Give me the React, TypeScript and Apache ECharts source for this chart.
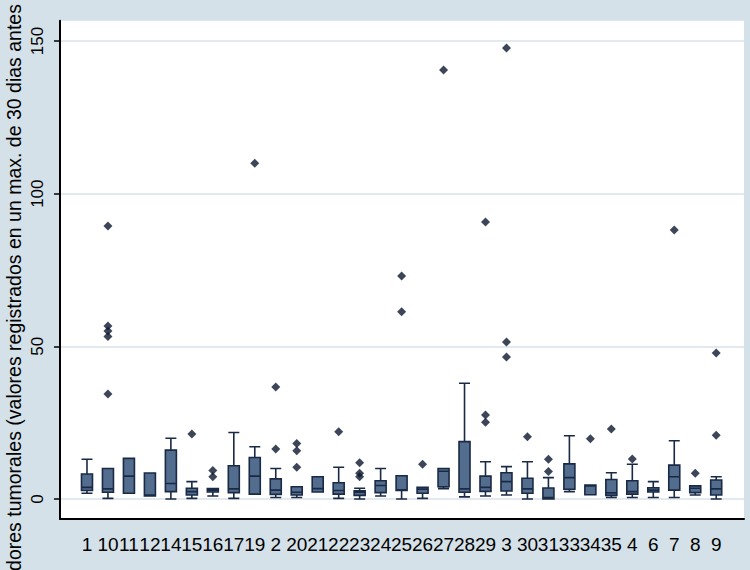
import React, { useEffect, useRef } from "react";
import * as echarts from "echarts";

const categories = ["1","10","11","12","14","15","16","17","19","2","20","21","22","23","24","25","26","27","28","29","3","30","31","33","34","35","4","6","7","8","9"];
const lowerWhisker = [1.9,0.2,1.9,1.0,0.0,0.2,1.0,0.2,1.6,0.5,0.5,2.3,0.2,0.0,1.0,0.0,0.2,3.4,0.7,1.0,1.3,0.0,0.0,2.4,1.4,0.5,0.5,0.5,0.5,1.3,0.0];
const q1 =           [2.8,2.2,1.9,1.0,2.4,1.3,2.3,2.1,1.6,1.5,1.3,2.3,1.6,1.2,2.1,2.8,1.9,4.0,2.2,2.5,2.6,1.9,0.0,3.2,1.4,1.2,1.6,2.3,2.9,2.1,1.3];
const median =       [3.8,3.3,7.5,1.3,5.1,2.4,2.9,3.3,7.5,2.9,2.2,3.4,2.8,2.2,4.4,3.0,3.2,9.1,3.3,3.8,5.7,3.3,0.5,7.0,4.3,2.0,2.4,2.9,7.3,3.5,3.3];
const q3 =           [8.2,10.0,13.3,8.5,16.0,3.5,3.4,10.9,13.6,6.6,4.0,7.3,5.3,2.7,6.0,7.6,3.8,10.0,18.8,7.5,8.6,6.8,3.6,11.5,4.6,6.4,6.0,3.7,11.1,4.3,6.2];
const upperWhisker = [13.0,10.0,13.3,8.5,19.9,5.7,3.4,21.8,17.1,10.0,4.0,7.3,10.4,3.5,10.0,7.6,3.8,10.0,37.9,12.2,10.6,12.2,7.0,20.7,4.6,8.6,11.4,5.7,19.1,4.3,7.3];

const outliers: [string, number][] = [
  ["10", 89.4], ["10", 56.7], ["10", 55.0], ["10", 53.2], ["10", 34.4],
  ["15", 21.3],
  ["16", 9.3], ["16", 7.3],
  ["19", 110.0],
  ["2", 36.7], ["2", 16.4],
  ["20", 18.2], ["20", 15.8], ["20", 10.4],
  ["22", 22.0],
  ["23", 11.9], ["23", 8.4], ["23", 7.3],
  ["25", 73.0], ["25", 61.3],
  ["26", 11.4],
  ["27", 140.5],
  ["29", 90.7], ["29", 27.5], ["29", 25.1],
  ["3", 147.7], ["3", 51.4], ["3", 46.5],
  ["30", 20.4],
  ["31", 13.0], ["31", 9.0],
  ["34", 19.7],
  ["35", 22.9],
  ["4", 13.1],
  ["7", 88.1],
  ["8", 8.4],
  ["9", 47.8], ["9", 20.9],
];

const yTicks = [0, 50, 100, 150];
const yTitle = "dores tumorales (valores registrados en un max. de 30 dias antes";

const Y_MIN = -6.55;
const Y_MAX = 156.65;
const FONT = "'Liberation Sans', Arial, sans-serif";

export default function App() {
  const ref = useRef<HTMLDivElement>(null);
  useEffect(() => {
    if (!ref.current) return;
    const chart = echarts.init(ref.current, null, { renderer: "svg" });
    const boxData = categories.map((_, i) => [lowerWhisker[i], q1[i], median[i], q3[i], upperWhisker[i]]);
    chart.setOption({
      animation: false,
      backgroundColor: "#d5e1e8",
      textStyle: { fontFamily: FONT },
      grid: [
        { left: 60, right: 6, top: 20.7, bottom: 51, show: true, backgroundColor: "#ffffff", borderWidth: 0 },
        { left: 76.5, right: 23.3, top: 20.7, bottom: 51 },
      ],
      xAxis: [
        {
          gridIndex: 0, type: "value", min: 0, max: 1,
          axisLine: { show: true, onZero: false, lineStyle: { color: "#000", width: 2 } },
          axisTick: { show: false }, axisLabel: { show: false }, splitLine: { show: false },
        },
        {
          gridIndex: 1, type: "category", data: categories, boundaryGap: true,
          axisLine: { show: false }, axisTick: { show: false }, splitLine: { show: false },
          axisLabel: { interval: 0, color: "#000", fontSize: 19, fontFamily: FONT, margin: 16 },
        },
      ],
      yAxis: [
        {
          gridIndex: 0, type: "value", min: Y_MIN, max: Y_MAX,
          axisLine: { show: true, lineStyle: { color: "#000", width: 2 } },
          axisTick: { show: true, length: 6, customValues: yTicks, lineStyle: { color: "#000", width: 1.5 } },
          axisLabel: { customValues: yTicks, rotate: 90, color: "#000", fontSize: 17, fontFamily: FONT, margin: 14 },
          splitLine: { show: true, lineStyle: { color: "#d9e3ea", width: 1.5 } },
        },
        {
          gridIndex: 1, type: "value", min: Y_MIN, max: Y_MAX, show: false,
          splitLine: { show: false },
        },
      ],
      series: [
        {
          type: "boxplot", xAxisIndex: 1, yAxisIndex: 1,
          data: boxData, boxWidth: [11, 11],
          itemStyle: { color: "#536d8f", borderColor: "#1a2a45", borderWidth: 1.6 },
        },
        {
          type: "scatter", xAxisIndex: 1, yAxisIndex: 1,
          data: outliers, symbol: "diamond", symbolSize: 9,
          itemStyle: { color: "#0c1830" },
        },
      ],
      graphic: [
        {
          type: "text", x: 14, y: 287.5, rotation: Math.PI / 2,
          style: { text: yTitle, fontSize: 19.5, fontFamily: FONT, fill: "#000", textAlign: "center", textVerticalAlign: "middle" },
        },
      ],
    });
    return () => chart.dispose();
  }, []);
  return <div ref={ref} style={{ position: "absolute", left: 0, top: 0, width: 750, height: 570 }} />;
}
